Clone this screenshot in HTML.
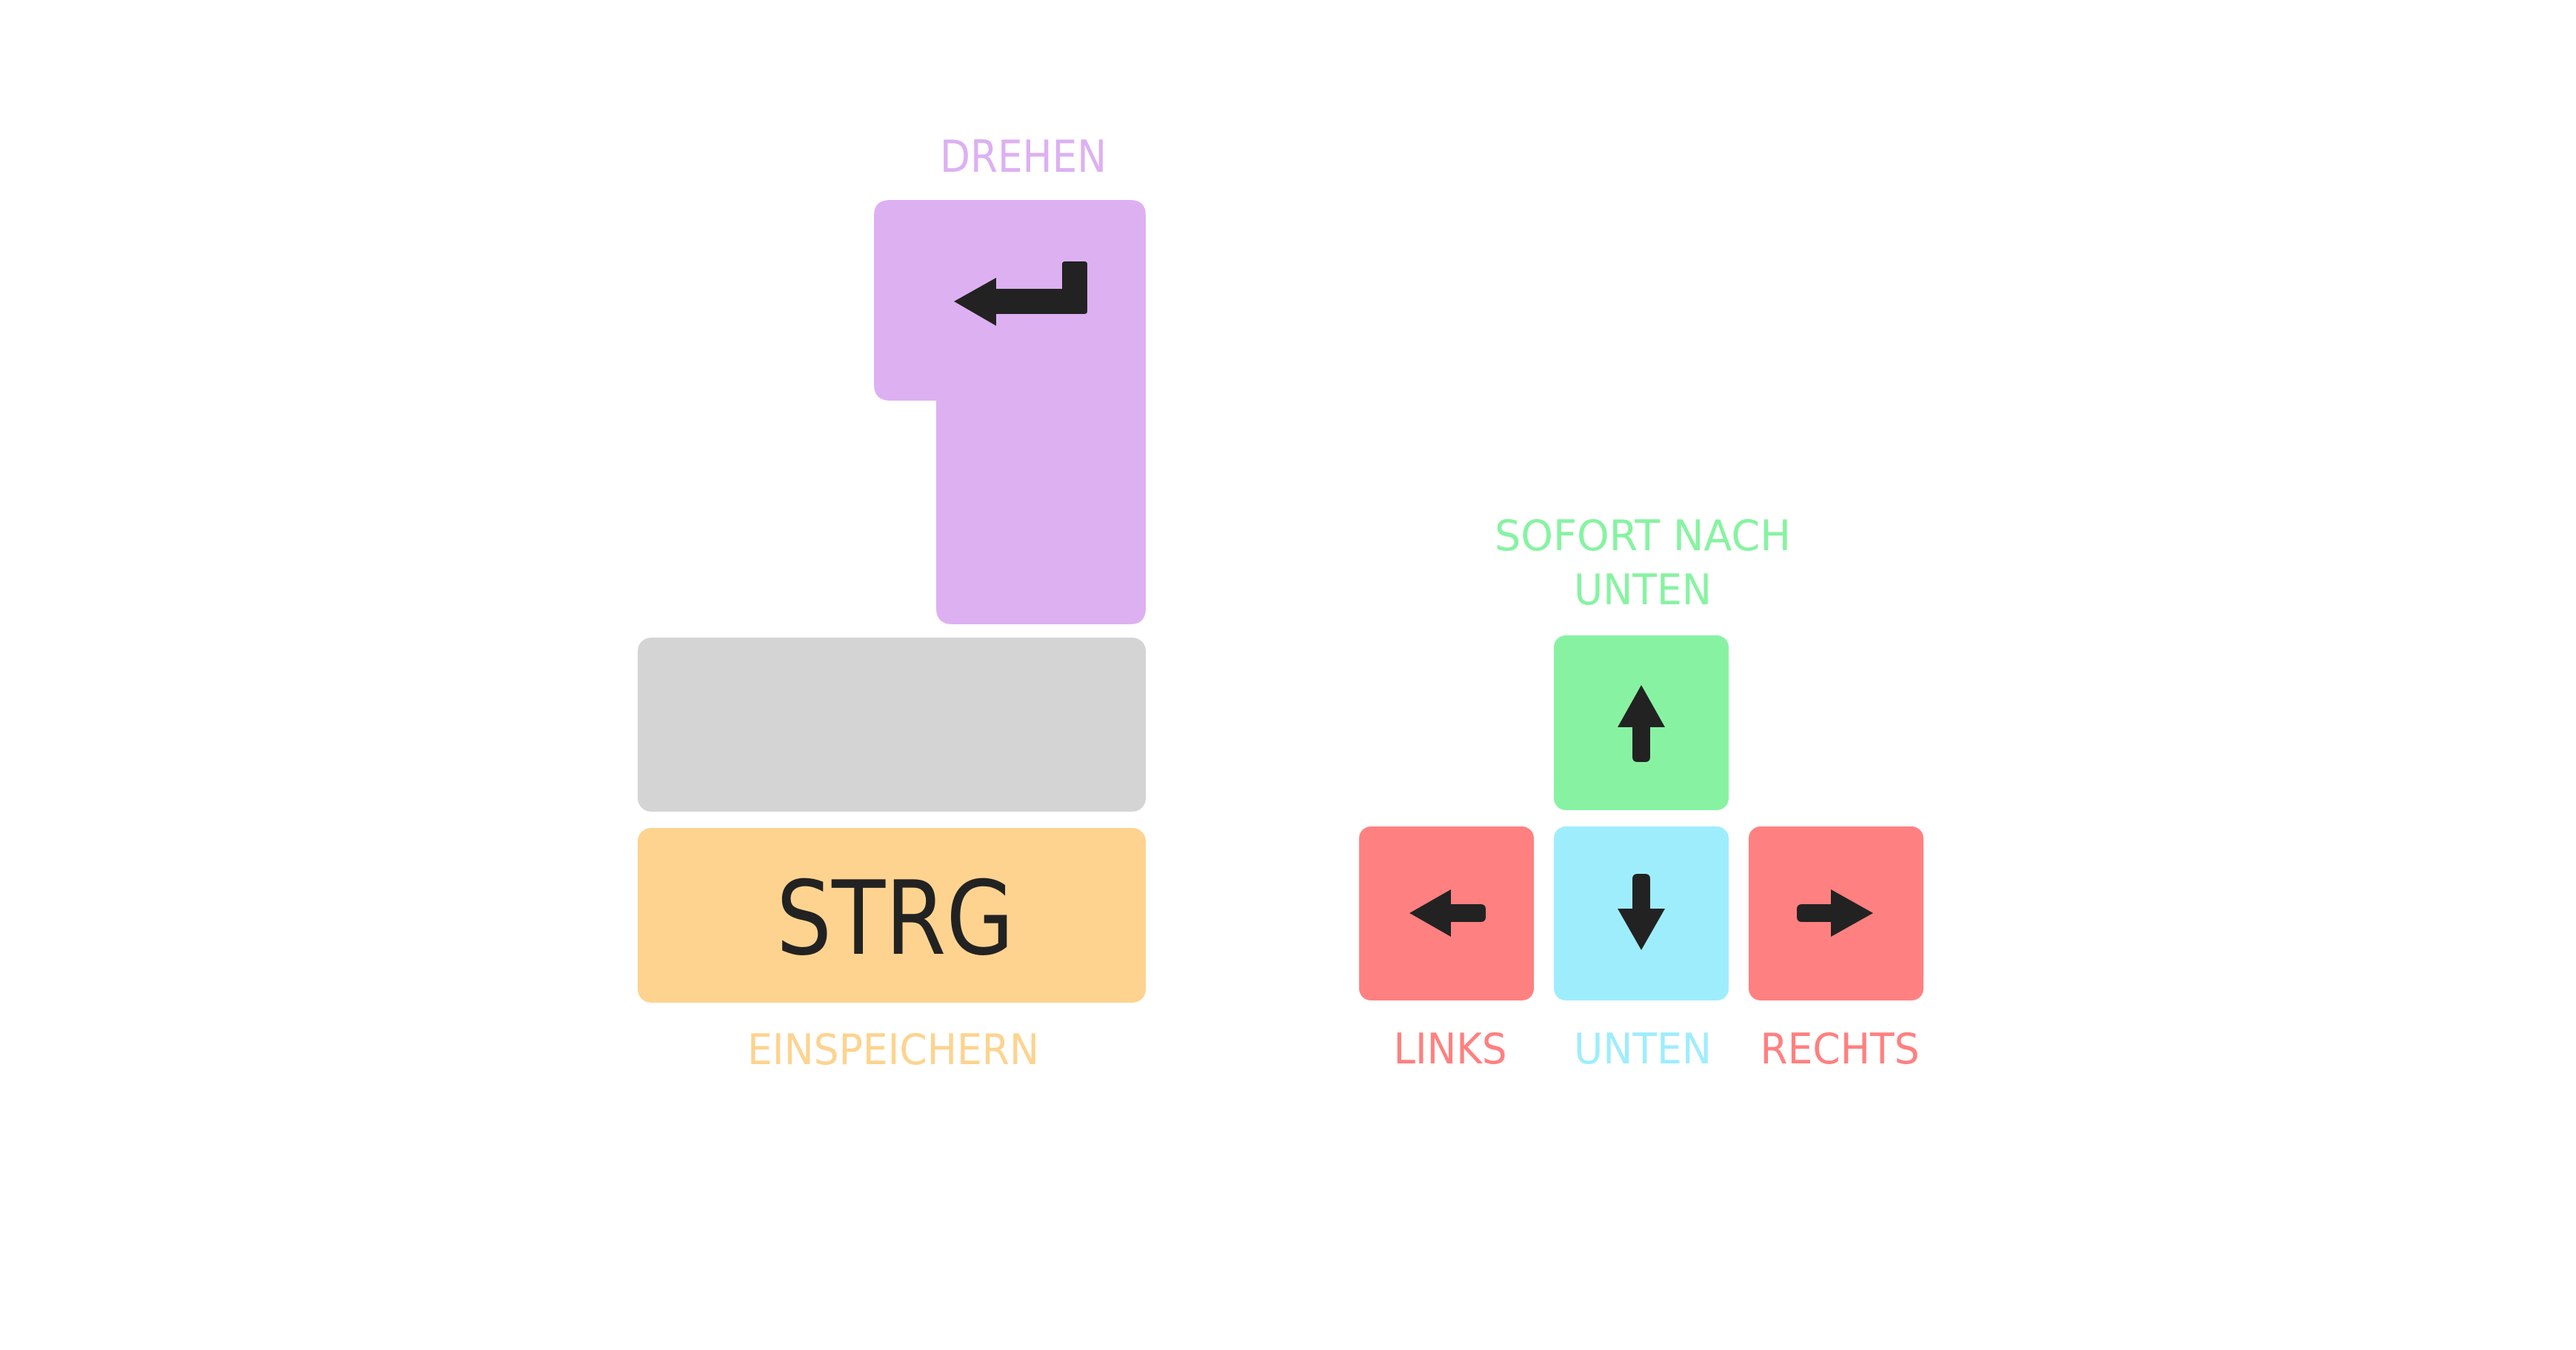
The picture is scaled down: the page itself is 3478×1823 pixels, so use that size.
<!DOCTYPE html>
<html><head><meta charset="utf-8"><style>html,body{margin:0;padding:0;background:#fff}svg{display:block}</style></head>
<body>
<svg width="3478" height="1823" viewBox="0 0 3478 1823" xmlns="http://www.w3.org/2000/svg" font-family="DejaVu Sans, Liberation Sans, sans-serif">
<rect width="3478" height="1823" fill="#fff"/>
<!-- purple enter key -->
<path d="M1202,270 H1526 Q1547,270 1547,291 V821 Q1547,843 1526,843 H1286 Q1264,843 1264,821 V541 H1202 Q1180,541 1180,519 V291 Q1180,270 1202,270 Z" fill="#ddb0f2"/>
<text x="1269" y="232" font-size="60" fill="#ddb0f2" textLength="225" lengthAdjust="spacingAndGlyphs">DREHEN</text>
<path d="M1288,407 L1345,375 V390 H1434 V357 Q1434,353 1438,353 H1464 Q1468,353 1468,357 V420 Q1468,424 1464,424 H1345 V440 Z" fill="#222"/>
<!-- gray -->
<rect x="861" y="861" width="686" height="235" rx="18" fill="#d4d4d4"/>
<!-- orange -->
<rect x="861" y="1118" width="686" height="236" rx="18" fill="#fdd38f"/>
<text x="1048" y="1288" font-size="138" fill="#222" textLength="321" lengthAdjust="spacingAndGlyphs">STRG</text>
<text x="1009" y="1437" font-size="57" fill="#fdd38f" textLength="394" lengthAdjust="spacingAndGlyphs">EINSPEICHERN</text>
<!-- arrow keys -->
<rect x="2098" y="858" width="236" height="236" rx="16" fill="#87f3a2"/>
<rect x="1835" y="1116" width="236" height="235" rx="16" fill="#ff8080"/>
<rect x="2098" y="1116" width="236" height="235" rx="16" fill="#9eedfd"/>
<rect x="2361" y="1116" width="236" height="235" rx="16" fill="#ff8080"/>
<!-- up -->
<path d="M2216,925 L2248,982 H2228 V1022 Q2228,1029 2221,1029 H2211 Q2204,1029 2204,1022 V982 H2184 Z" fill="#222"/>
<!-- down -->
<path d="M2216,1283 L2248,1227 H2228 V1187 Q2228,1180 2221,1180 H2211 Q2204,1180 2204,1187 V1227 H2184 Z" fill="#222"/>
<!-- left -->
<path d="M1903,1233 L1959,1201 V1221 H1999 Q2006,1221 2006,1228 V1238 Q2006,1245 1999,1245 H1959 V1265 Z" fill="#222"/>
<!-- right -->
<path d="M2529,1233 L2472,1201 V1221 H2433 Q2426,1221 2426,1228 V1238 Q2426,1245 2433,1245 H2472 V1265 Z" fill="#222"/>
<text x="2218" y="743" font-size="57" fill="#87f3a2" text-anchor="middle" textLength="400" lengthAdjust="spacingAndGlyphs">SOFORT NACH</text>
<text x="2218" y="816" font-size="57" fill="#87f3a2" text-anchor="middle" textLength="186" lengthAdjust="spacingAndGlyphs">UNTEN</text>
<text x="1958" y="1436" font-size="57" fill="#ff8080" text-anchor="middle" textLength="153" lengthAdjust="spacingAndGlyphs">LINKS</text>
<text x="2218" y="1436" font-size="57" fill="#9eedfd" text-anchor="middle" textLength="186" lengthAdjust="spacingAndGlyphs">UNTEN</text>
<text x="2484" y="1436" font-size="57" fill="#ff8080" text-anchor="middle" textLength="215" lengthAdjust="spacingAndGlyphs">RECHTS</text>
</svg>
</body></html>
